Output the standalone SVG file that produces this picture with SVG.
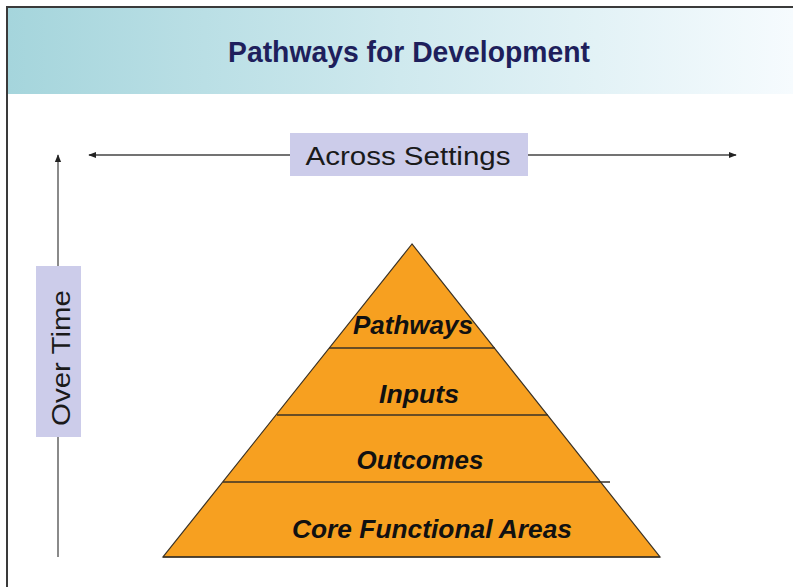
<svg xmlns="http://www.w3.org/2000/svg" width="793" height="587" viewBox="0 0 793 587">
  <defs>
    <linearGradient id="headerFill" x1="0" y1="0" x2="1" y2="0">
      <stop offset="0" stop-color="#a5d5dc"/>
      <stop offset="0.5" stop-color="#cfe9ee"/>
      <stop offset="1" stop-color="#f6fbfe"/>
    </linearGradient>
    <marker id="arrowHead" viewBox="0 0 10 10" refX="9" refY="5" markerWidth="8" markerHeight="8" markerUnits="userSpaceOnUse" orient="auto-start-reverse">
      <path d="M0,1 L10,5 L0,9 Z" fill="#222"/>
    </marker>
    <style>
      .frame { stroke: #3a3a3a; stroke-width: 2; fill: none; }
      .title { font-family: "Liberation Sans", Arial, sans-serif; font-weight: bold; font-size: 29px; fill: #1e1f5c; }
      .label-box { fill: #ccccea; }
      .label { font-family: "Liberation Sans", Arial, sans-serif; font-size: 26px; fill: #1a1a1a; }
      .axis { stroke: #444; stroke-width: 1.6; fill: none; }
      .axis-v { stroke: #8a8a8a; stroke-width: 2; fill: none; }
      .tier { fill: #f7a020; stroke: #3a3226; stroke-width: 1.2; }
      .divider { stroke: #3a3226; stroke-width: 1.5; }
      .tier-text { font-family: "Liberation Sans", Arial, sans-serif; font-weight: bold; font-style: italic; font-size: 26px; fill: #111; text-anchor: middle; }
    </style>
  </defs>

  <rect x="0" y="0" width="793" height="587" fill="#ffffff"/>

  <!-- header band -->
  <g id="header">
    <rect x="8" y="8" width="785" height="86" fill="url(#headerFill)"/>
    <text class="title" x="409" y="62" text-anchor="middle" textLength="362" lengthAdjust="spacingAndGlyphs">Pathways for Development</text>
  </g>

  <!-- slide frame -->
  <path class="frame" d="M7,587 V7 H793"/>

  <!-- axes -->
  <g id="connectors">
    <line class="axis" x1="290" y1="155" x2="89" y2="155" marker-end="url(#arrowHead)"/>
    <line class="axis" x1="528" y1="155" x2="736" y2="155" marker-end="url(#arrowHead)"/>
    <line class="axis-v" x1="58" y1="557" x2="58" y2="437"/>
    <line class="axis-v" x1="58" y1="266" x2="58" y2="155" marker-end="url(#arrowHead)"/>
  </g>

  <g id="across-settings">
    <rect class="label-box" x="290" y="133" width="238" height="43"/>
    <text class="label" x="408" y="165" text-anchor="middle" textLength="205" lengthAdjust="spacingAndGlyphs">Across Settings</text>
  </g>

  <g id="over-time">
    <rect class="label-box" x="36" y="266" width="45" height="171"/>
    <text class="label" transform="translate(70,358) rotate(-90)" x="0" y="0" text-anchor="middle" textLength="136" lengthAdjust="spacingAndGlyphs">Over Time</text>
  </g>

  <!-- pyramid -->
  <g id="pyramid">
    <polygon class="tier" points="412,244 163,557 660,557"/>
    <line class="divider" x1="329" y1="348" x2="495" y2="348"/>
    <line class="divider" x1="277" y1="415" x2="548" y2="415"/>
    <line class="divider" x1="223" y1="482" x2="610" y2="482"/>
    <line class="divider" x1="163" y1="557" x2="660" y2="557"/>
  </g>

  <g id="tier-pathways">
    <text class="tier-text" x="413" y="334" textLength="120" lengthAdjust="spacingAndGlyphs">Pathways</text>
  </g>
  <g id="tier-inputs">
    <text class="tier-text" x="419" y="403" textLength="80" lengthAdjust="spacingAndGlyphs">Inputs</text>
  </g>
  <g id="tier-outcomes">
    <text class="tier-text" x="420" y="469" textLength="127" lengthAdjust="spacingAndGlyphs">Outcomes</text>
  </g>
  <g id="tier-core">
    <text class="tier-text" x="432" y="538" textLength="280" lengthAdjust="spacingAndGlyphs">Core Functional Areas</text>
  </g>
</svg>
